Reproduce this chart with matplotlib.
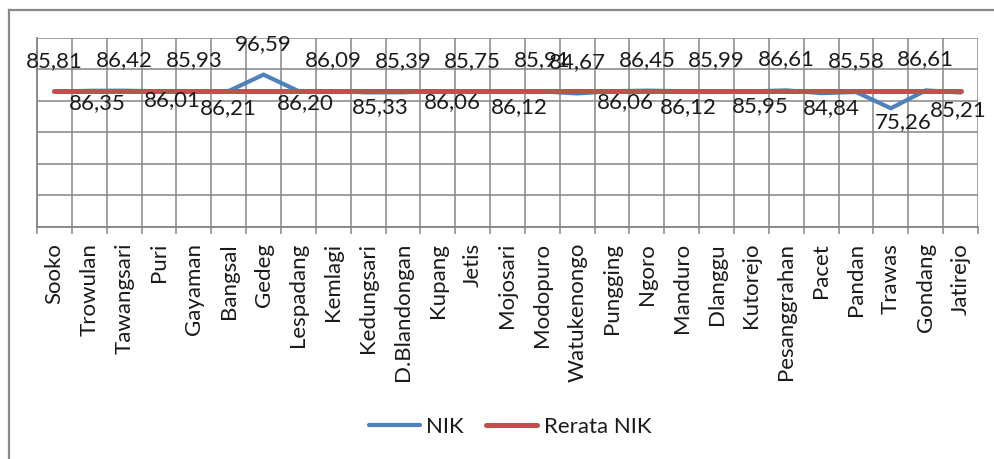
import matplotlib
matplotlib.use("Agg")
import matplotlib.pyplot as plt
from matplotlib.lines import Line2D
import numpy as np

plt.rcParams['font.family'] = ['Lato', 'DejaVu Sans']

kecamatan = ["Sooko", "Trowulan", "Tawangsari", "Puri", "Gayaman", "Bangsal",
             "Gedeg", "Lespadang", "Kemlagi", "Kedungsari", "D.Blandongan",
             "Kupang", "Jetis", "Mojosari", "Modopuro", "Watukenongo",
             "Pungging", "Ngoro", "Manduro", "Dlanggu", "Kutorejo",
             "Pesanggrahan", "Pacet", "Pandan", "Trawas", "Gondang", "Jatirejo"]
nik = [85.81, 86.35, 86.42, 86.01, 85.93, 86.21, 96.59, 86.20, 86.09, 85.33,
       85.39, 86.06, 85.75, 86.12, 85.91, 84.67, 86.06, 86.45, 86.12, 85.99,
       85.95, 86.61, 84.84, 85.58, 75.26, 86.61, 85.21]
rerata_nik = 85.91

# label placement (pixel offsets from each point): above / below the line
lbl_dx = [0, 8, 0, 13, 0, 0, 0, 7, 0, 12, 0, 15, 0, 12, 0, 0,
          13, 0, 7, 0, 9, 0, 10, 0, 12, 0, -2]
lbl_dy = [-31, 12, -31, 9, -31, 17, -31, 12, -31, 15, -31, 11, -31, 16, -31, -31,
          11, -31, 16, -31, 15, -31, 15, -31, 14, -31, 18]

W, H = 995, 459
fig = plt.figure(figsize=(W / 100, H / 100), dpi=100)
ax = fig.add_axes([37 / W, 1 - 227 / H, (978 - 37) / W, (227 - 37.7) / H])

n = len(kecamatan)
x = np.arange(n) + 0.5
blue = "#4F81BD"
red = "#C0504D"
grid_c = "#868686"

ax.plot(x, nik, color=blue, lw=3.0, solid_capstyle="round", solid_joinstyle="miter", zorder=3)
ax.plot(x, [rerata_nik] * n, color=red, lw=3.6, solid_capstyle="round", zorder=4)

ax.set_xlim(0, n)
ax.set_ylim(0, 120)
ax.set_yticks(np.arange(0, 121, 20))
ax.set_xticks(np.arange(n + 1))
ax.set_xticks(x, minor=True)
ax.set_xticklabels([])
ax.set_xticklabels(kecamatan, minor=True, rotation=90, va="top", ha="center",
                   fontsize=16, color="#1a1a1a")
ax.tick_params(axis="x", which="major", length=5, width=1.1, color=grid_c, direction="out")
ax.tick_params(axis="x", which="minor", length=0, pad=11.5)
ax.tick_params(axis="y", left=False, labelleft=False)
ax.grid(True, which="major", color=grid_c, lw=1.1)
ax.set_axisbelow(True)
for s in ["top", "right"]:
    ax.spines[s].set_visible(False)
for s in ["left", "bottom"]:
    ax.spines[s].set_color(grid_c)
    ax.spines[s].set_linewidth(1.3)

for xi, v, dx, dy in zip(x, nik, lbl_dx, lbl_dy):
    ax.annotate(f"{v:.2f}".replace(".", ","), (xi, v),
                xytext=(dx * 0.72, -dy * 0.72), textcoords="offset points",
                ha="center", va="center", fontsize=16, color="#1a1a1a", zorder=5,
                annotation_clip=False)

handles = [Line2D([], [], color=blue, lw=3.0, solid_capstyle="round"),
           Line2D([], [], color=red, lw=3.6, solid_capstyle="round")]
fig.legend(handles, ["NIK", "Rerata NIK"], loc="center", bbox_to_anchor=(510 / W, 1 - 427 / H),
           ncol=2, frameon=False, fontsize=16, handlelength=2.3, handletextpad=0.3,
           columnspacing=1.0, labelcolor="#1a1a1a")

# chart area border
border = "#898989"
fig.add_artist(Line2D([9 / W, 9 / W], [0, 1 - 10 / H], color=border, lw=1.6, transform=fig.transFigure))
fig.add_artist(Line2D([9 / W, 1], [1 - 10 / H, 1 - 10 / H], color=border, lw=1.6, transform=fig.transFigure))

fig.savefig("out.png", dpi=100, facecolor="white")
